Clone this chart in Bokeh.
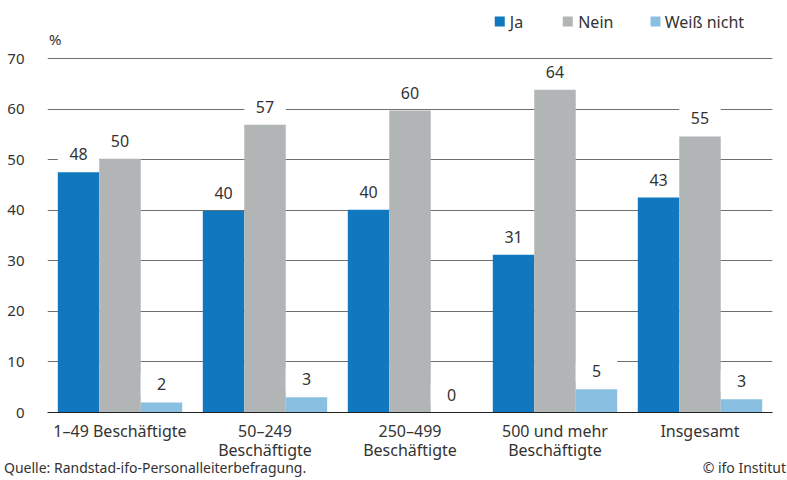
from bokeh.plotting import figure
from bokeh.models import ColumnDataSource, FactorRange, Range1d, FixedTicker, CustomJSTickFormatter, Div
from bokeh.layouts import column
from bokeh.transform import dodge
from bokeh.core.properties import value
from bokeh.embed import file_html
from bokeh.resources import INLINE

# ---- data ----
categories = ["1–49 Beschäftigte", "50–249 Beschäftigte", "250–499 Beschäftigte",
              "500 und mehr Beschäftigte", "Insgesamt"]
category_labels = ["1–49 Beschäftigte", "50–249\nBeschäftigte", "250–499\nBeschäftigte",
                   "500 und mehr\nBeschäftigte", "Insgesamt"]
series_names = ["Ja", "Nein", "Weiß nicht"]
ja = [47.5, 39.9, 40.1, 31.2, 42.5]
nein = [50.2, 56.9, 59.7, 63.8, 54.6]
weiss = [2.0, 3.0, 0.0, 4.6, 2.6]
ja_labels = ["48", "40", "40", "31", "43"]
nein_labels = ["50", "57", "60", "64", "55"]
weiss_labels = ["2", "3", "0", "5", "3"]
y_ticks = [0, 10, 20, 30, 40, 50, 60, 70]
unit_label = "%"
source_text = "Quelle: Randstad-ifo-Personalleiterbefragung."
credit_text = "© ifo Institut"

# ---- style ----
FONT = "Noto Sans"
TXT = "#333333"
colors = ["#1177BE", "#B2B5B5", "#89C0E1"]
FRAME_H = 412
PX_PER_UNIT = 354 / 70.0
BAR_W = 0.286
LABEL_GAP = 18
W = 787
MAIN_H = 464
FOOT_H = 16

p = figure(width=W, height=MAIN_H, output_backend="svg", toolbar_location=None,
           x_range=FactorRange(factors=categories, range_padding=0),
           y_range=Range1d(0, FRAME_H / PX_PER_UNIT),
           min_border_left=47, min_border_right=15, min_border_top=0,
           min_border_bottom=MAIN_H - FRAME_H,
           outline_line_color=None, background_fill_color="white", border_fill_color="white")

series = [ja, nein, weiss]
labels = [ja_labels, nein_labels, weiss_labels]
offsets = [-BAR_W, 0.0, BAR_W]

for vals, labs, off, col, name in zip(series, labels, offsets, colors, series_names):
    src = ColumnDataSource(dict(cat=categories, top=vals, lab=labs,
                                ly=[v + LABEL_GAP / PX_PER_UNIT for v in vals]))
    p.vbar(x=dodge("cat", off, range=p.x_range), top="top", width=BAR_W, source=src,
           fill_color=col, line_color=None)
    p.rect(x=dodge("cat", off, range=p.x_range), y="ly", width=BAR_W, height=22,
           height_units="screen", source=src, fill_color="white", line_color=None)
    p.text(x=dodge("cat", off, range=p.x_range), y="ly", text="lab", source=src,
           text_align="center", text_baseline="middle", text_font=value(FONT),
           text_font_size="16px", text_color=TXT)

# legend (drawn in the upper part of the frame)
leg_sq_x = [3.119, 3.588, 4.193]
leg_tx_x = [3.188, 3.660, 4.257]
leg_y = (FRAME_H - 21) / PX_PER_UNIT
p.rect(x=leg_sq_x, y=[leg_y] * 3, width=10, height=10, width_units="screen",
       height_units="screen", fill_color=colors, line_color=None)
p.text(x=leg_tx_x, y=[leg_y] * 3, text=series_names, text_baseline="middle",
       text_align="left", text_font=value(FONT), text_font_size="16px", text_color=TXT)

# unit label
p.text(x=[0.01], y=[(FRAME_H - 38) / PX_PER_UNIT], text=[unit_label], text_baseline="middle",
       text_align="left", text_font=value(FONT), text_font_size="15px", text_color=TXT)

# axes
p.xgrid.grid_line_color = None
p.ygrid.ticker = FixedTicker(ticks=y_ticks)
p.ygrid.grid_line_color = "#707070"
p.ygrid.grid_line_width = 1

p.yaxis.ticker = FixedTicker(ticks=y_ticks)
p.yaxis.axis_line_color = None
p.yaxis.major_tick_line_color = None
p.yaxis.minor_tick_line_color = None
p.yaxis.major_label_standoff = 17
p.yaxis.major_label_text_font = FONT
p.yaxis.major_label_text_font_size = "15px"
p.yaxis.major_label_text_color = TXT

xa = p.xaxis[0]
xa.axis_line_color = "#222222"
xa.axis_line_width = 1.2
xa.major_tick_line_color = None
xa.minor_tick_line_color = None
xa.major_tick_out = 0
xa.major_tick_in = 0
xa.major_label_standoff = 7
xa.major_label_text_font = FONT
xa.major_label_text_font_size = "16px"
xa.major_label_text_color = TXT
xa.major_label_text_line_height = 0.87
xa.formatter = CustomJSTickFormatter(
    args=dict(cats=categories, labs=category_labels),
    code="const i = cats.indexOf(tick); return i >= 0 ? labs[i] : tick;")

# footer line (source and credit)
footer_html = (
    '<div style="position:relative;width:%dpx;height:%dpx;overflow:visible;'
    "font-family:'Noto Sans',sans-serif;font-size:14px;line-height:14px;color:%s;\">"
    '<span style="position:absolute;left:4px;top:-3px;white-space:nowrap;">%s</span>'
    '<span style="position:absolute;right:1px;top:-3px;white-space:nowrap;">%s</span>'
    "</div>" % (W, FOOT_H, TXT, source_text, credit_text))
footer = Div(text=footer_html, width=W, height=FOOT_H, margin=(0, 0, 0, 0),
             styles={"overflow": "visible"})

layout = column(p, footer, spacing=0)
open("out.html", "w").write(file_html(layout, INLINE))
